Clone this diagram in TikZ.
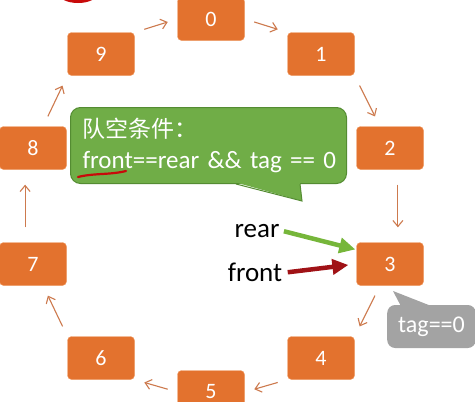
\documentclass[tikz,border=0pt]{standalone}
\usepackage{fontspec}
\setmainfont{Carlito}
\newfontfamily\cjkfont{Noto Sans CJK SC}
\usetikzlibrary{arrows.meta,calc}
\definecolor{slotorange}{RGB}{227,114,46}
\definecolor{slotedge}{RGB}{240,155,100}
\definecolor{linkbrown}{RGB}{205,122,78}
\definecolor{notegreen}{RGB}{112,173,71}
\definecolor{notegreenedge}{RGB}{84,140,50}
\definecolor{notegray}{RGB}{163,163,163}
\definecolor{reargreen}{RGB}{118,182,58}
\definecolor{frontred}{RGB}{160,18,22}
\definecolor{markred}{RGB}{200,10,10}

\begin{document}
\begin{tikzpicture}[x=1pt,y=-1pt,
    slot/.style={draw=slotedge,fill=slotorange,rounded corners=4pt,
      minimum width=67pt,minimum height=43pt,inner sep=0pt,
      text=white,font=\fontsize{22}{26}\selectfont},
    link/.style={draw=linkbrown,line width=1.1pt,
      -{Straight Barb[length=6pt,width=10pt]}},
    pointer/.style={line width=4.5pt,-{Triangle[length=16pt,width=15pt]}},
    label/.style={font=\fontsize{27}{30}\selectfont}]
    \fill[white] (0,0) rectangle (475,402);
    \useasboundingbox (0,0) rectangle (475,402);
    \fill[markred] (78,-6) ellipse (19pt and 9pt);

    % ring of slots
    \node[slot] (q0) at (211,19) {0};
    \node[slot] (q1) at (321,54) {1};
    \node[slot] (q2) at (390,148) {2};
    \node[slot] (q3) at (390,264) {3};
    \node[slot] (q4) at (321,358) {4};
    \node[slot] (q5) at (211,392) {5};
    \node[slot] (q6) at (101,358) {6};
    \node[slot] (q7) at (33,264) {7};
    \node[slot] (q8) at (33,148) {8};
    \node[slot] (q9) at (101,54) {9};

    \draw[link,shorten <=10pt,shorten >=10pt] (q9.north east) -- (q0.west);
    \draw[link,shorten <=10pt,shorten >=10pt] (q0.east) -- (q1.north west);
    \draw[link,shorten <=11pt,shorten >=11pt] (q1.south east) -- (q2.115);
    \draw[link,shorten <=15pt,shorten >=15pt] (q2.-70) -- (q3.70);
    \draw[link,shorten <=11pt,shorten >=11pt] (q3.245) -- (q4.north east);
    \draw[link,shorten <=10pt,shorten >=10pt] (q4.south west) -- (q5.east);
    \draw[link,shorten <=10pt,shorten >=10pt] (q5.west) -- (q6.south east);
    \draw[link,shorten <=11pt,shorten >=11pt] (q6.north west) -- (q7.295);
    \draw[link,shorten <=15pt,shorten >=15pt] (q7.110) -- (q8.250);
    \draw[link,shorten <=11pt,shorten >=11pt] (q8.65) -- (q9.south west);

    % empty condition
    \node[fill=notegreen,draw=notegreenedge,line width=1pt,rounded corners=10pt,
          anchor=north west,text width=252pt,minimum height=76pt,
          inner xsep=12pt,inner ysep=8pt,align=left,text=white,
          font=\fontsize{25}{31}\selectfont] (cond) at (70,107)
      {{\cjkfont\fontsize{23}{31}\selectfont 队空条件：}\\\mbox{front==rear \&\& tag == 0}};
    \coordinate (condtip) at (302,201);
    \fill[notegreen] ($(cond.south west)+(166,-1.5)$) -- (condtip)
      -- ($(cond.south west)+(230,-1.5)$) -- cycle;
    \draw[notegreenedge,line width=1pt] ($(cond.south west)+(166,0)$)
      -- (condtip) -- ($(cond.south west)+(230,0)$);
    \draw[markred,line width=2.2pt,line cap=round]
      (78,177) .. controls (94,173) and (110,175) .. (126,171);

    % pointers
    \node[label] (rear) at (257,231) {rear};
    \node[label] (front) at (255,272.5) {front};
    \draw[pointer,reargreen,shorten <=1pt,shorten >=1pt] (rear.east) -- (q3.157);
    \draw[pointer,frontred,shorten <=2pt,shorten >=8pt] (front.east) -- (q3.west);

    % tag note
    \node[fill=notegray,rounded corners=8pt,anchor=west,inner xsep=11pt,
          minimum height=43pt,text=white,
          font=\fontsize{24}{28}\selectfont] (tagnote) at (387,326.5) {tag==0};
    \coordinate (tagtip) at (393,291);
    \fill[notegray] ($(tagnote.north west)+(14,1.5)$) -- (tagtip)
      -- ($(tagnote.north west)+(45,1.5)$) -- cycle;
\end{tikzpicture}
\end{document}
